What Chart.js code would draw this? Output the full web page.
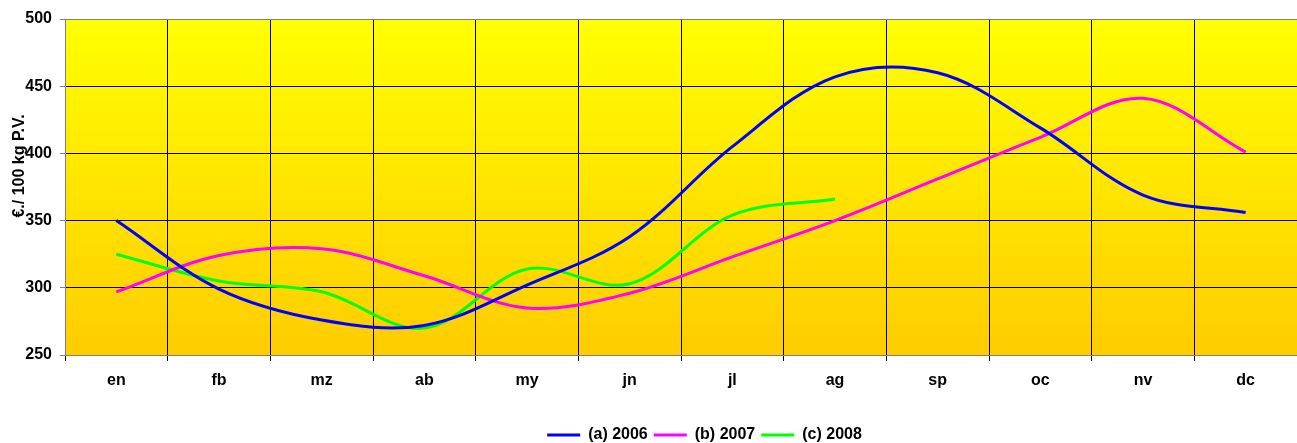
<!DOCTYPE html>
<html>
<head>
<meta charset="utf-8">
<script src="https://cdn.jsdelivr.net/npm/chart.js@4/dist/chart.umd.min.js"></script>
<style>
	html, body { margin: 0; padding: 0; background: #ffffff; }
	#wrap { width: 1297px; height: 443px; }
</style>
</head>
<body>
<div id="wrap"><canvas id="chart"></canvas></div>
<script>
const months = ["en", "fb", "mz", "ab", "my", "jn", "jl", "ag", "sp", "oc", "nv", "dc"];
const prices2006 = [350, 299, 276, 272, 302, 338, 405, 457, 460, 419, 369, 356];
const prices2007 = [297, 324, 329, 309, 285, 296, 323, 350, 381, 412, 441, 401];
const prices2008 = [325, 305, 297, 270, 314, 303, 354, 366];
const seriesLabels = ["(a) 2006", "(b) 2007", "(c) 2008"];
const yTitleText = "€./ 100 kg P.V.";

const fontFamily = "'Liberation Sans', Arial, sans-serif";
const boldFont = { family: fontFamily, size: 16, weight: "bold" };

// yellow -> orange fill behind the plot area
const plotBackground = {
	id: "plotBackground",
	beforeDraw(chart) {
		const { ctx, chartArea } = chart;
		const gradient = ctx.createLinearGradient(0, chartArea.top, 0, chartArea.bottom);
		gradient.addColorStop(0, "#FFFF00");
		gradient.addColorStop(1, "#FFCC00");
		ctx.save();
		ctx.fillStyle = gradient;
		ctx.fillRect(chartArea.left, chartArea.top, chartArea.right - chartArea.left, chartArea.bottom - chartArea.top);
		ctx.restore();
	}
};

// axis title sits over the tick labels, as in the original
const yTitle = {
	id: "yTitle",
	afterDraw(chart) {
		const ctx = chart.ctx;
		ctx.save();
		ctx.translate(20, 166);
		ctx.rotate(-Math.PI / 2);
		ctx.font = "bold 16px " + fontFamily;
		ctx.fillStyle = "#000000";
		ctx.textAlign = "center";
		ctx.textBaseline = "middle";
		ctx.fillText(yTitleText, 0, 0);
		ctx.restore();
	}
};

const legendShift = {
	id: "legendShift",
	afterLayout(chart) {
		chart.legend.left += 56;
		chart.legend.right += 56;
	}
};

const makeDataset = (label, data, color) => {
	return {
		label: label,
		data: data,
		borderColor: color,
		backgroundColor: color,
		borderWidth: 3,
		pointRadius: 0,
		pointHoverRadius: 0,
		tension: 0.35,
		fill: false
	};
};

const context = document.getElementById("chart").getContext("2d");
new Chart(context, {
	type: "line",
	data: {
		labels: months,
		datasets: [
			makeDataset(seriesLabels[0], prices2006, "#0000FF"),
			makeDataset(seriesLabels[1], prices2007, "#FF00FF"),
			makeDataset(seriesLabels[2], prices2008, "#00FF00")
		]
	},
	options: {
		responsive: true,
		maintainAspectRatio: false,
		animation: false,
		layout: {
			padding: { top: 19, right: 0, bottom: -10, left: 0 }
		},
		plugins: {
			legend: {
				position: "bottom",
				labels: {
					usePointStyle: true,
					pointStyle: "line",
					pointStyleWidth: 33,
					padding: 6,
					color: "#000000",
					font: boldFont
				}
			},
			tooltip: { enabled: false }
		},
		scales: {
			x: {
				offset: true,
				grid: {
					offset: true,
					color: "#000000",
					tickColor: "#000000",
					tickLength: 6
				},
				border: { color: "#808080" },
				ticks: {
					color: "#000000",
					font: boldFont,
					padding: 10,
					maxRotation: 0
				},
				afterFit(scale) {
					scale.height = 66;
				}
			},
			y: {
				min: 250,
				max: 500,
				grid: {
					color: ctx => (ctx.tick && ctx.tick.value === 500) ? "#808080" : "#000000",
					tickColor: "#808080",
					tickLength: 5
				},
				border: { color: "#808080" },
				ticks: {
					stepSize: 50,
					color: "#000000",
					font: boldFont,
					padding: 8
				},
				afterFit(scale) {
					scale.width = 65;
				}
			}
		}
	},
	plugins: [plotBackground, yTitle, legendShift]
});
</script>
</body>
</html>
